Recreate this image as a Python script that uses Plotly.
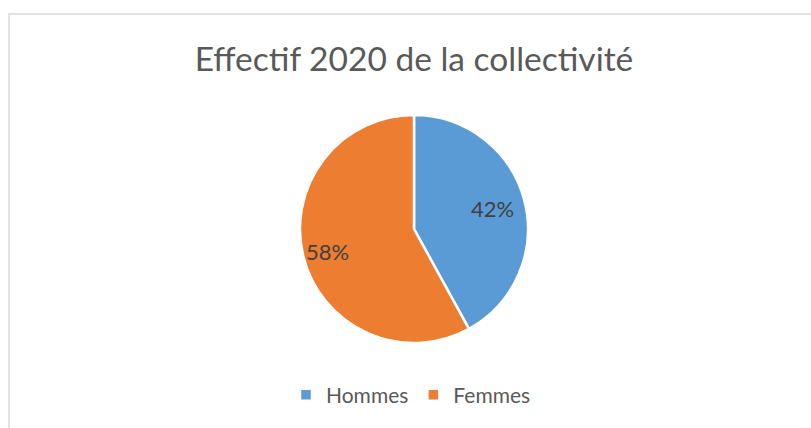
import math
import plotly.graph_objects as go

categories = ["Hommes", "Femmes"]
values = [42, 58]
colors = ["#5B9BD5", "#ED7D31"]
title_text = "Effectif 2020 de la collectivité"

W, H = 811, 428
# pie geometry (pixels)
cx_px, cy_px, R_px = 414, 229, 114
label_r = [0.71, 0.78]

fig = go.Figure(go.Pie(
    labels=categories,
    values=values,
    sort=False,
    direction="clockwise",
    rotation=0,
    marker=dict(colors=colors, line=dict(color="white", width=2.5)),
    textinfo="none",
    domain=dict(x=[(cx_px - R_px) / W, (cx_px + R_px) / W],
                y=[1 - (cy_px + R_px) / H, 1 - (cy_px - R_px) / H]),
    hoverinfo="label+percent",
))

# percentage labels placed at slice mid-angles
total = sum(values)
cum = 0
annotations = []
for i, v in enumerate(values):
    mid = 2 * math.pi * (cum + v / 2) / total
    cum += v
    r = label_r[i] * R_px
    x = (cx_px + r * math.sin(mid)) / W
    y = 1 - (cy_px - r * math.cos(mid)) / H
    annotations.append(dict(
        x=x, y=y, xref="paper", yref="paper", showarrow=False,
        text=f"{round(100 * v / total)}%",
        font=dict(family="Lato", size=22, color="#404040"),
        xanchor="center", yanchor="middle"))

fig.update_layout(
    width=W, height=H,
    margin=dict(l=0, r=0, t=0, b=0),
    paper_bgcolor="white",
    plot_bgcolor="white",
    title=dict(text=title_text, x=414 / W, xanchor="center", y=1 - 59 / H, yanchor="middle",
               yref="container", xref="container",
               font=dict(family="Lato", size=33.5, color="#595959")),
    legend=dict(orientation="h", x=411 / W, xanchor="center", y=1 - 395 / H, yanchor="middle",
                font=dict(family="Lato", size=21, color="#595959"),
                itemwidth=30, tracegroupgap=0),
    annotations=annotations,
    shapes=[dict(type="rect", xref="paper", yref="paper",
                 x0=9 / W, x1=1.02, y0=-0.05, y1=1 - 14 / H,
                 line=dict(color="#D9D9D9", width=1.5), fillcolor="rgba(0,0,0,0)", layer="below")],
)

fig.write_html("out.html", config={"displayModeBar": False},
               post_script="document.body.style.margin='0';")
